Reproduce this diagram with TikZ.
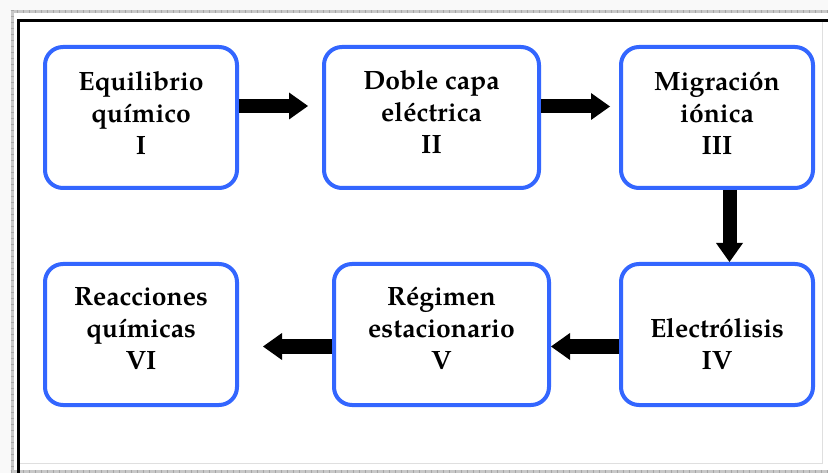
\documentclass[tikz,border=0pt]{standalone}
\usepackage{fontspec}
\setmainfont{texgyrepagella}[Extension=.otf, UprightFont=*-regular, BoldFont=*-bold, ItalicFont=*-italic, BoldItalicFont=*-bolditalic]
\usetikzlibrary{arrows.meta}
\definecolor{boxblue}{RGB}{51,102,255}
\definecolor{rulergray}{RGB}{200,200,200}
\tikzset{
  box/.style={draw=boxblue, line width=4pt, rounded corners=18pt, fill=white, inner sep=0pt},
  txt/.style={font=\fontsize{26.5}{32}\selectfont\bfseries, align=center, inner sep=0pt},
  blockarrow/.style={line width=14pt, -{Triangle[width=27pt,length=19pt,line width=0pt]}},
  ruler/.style={line width=3pt, draw=rulergray},
  rulerticks/.style={line width=3pt, draw=gray!70, dash pattern=on 0.6pt off 5.4pt},
  frame/.style={line width=3.5pt, draw=black},
  thin/.style={line width=1pt, draw=gray!25}
}
\begin{document}
\begin{tikzpicture}[x=1pt,y=-1pt]
\useasboundingbox (0,0) rectangle (828,473);
% page background and frame
\fill[gray!5] (0,0) rectangle (828,473);
\fill[white] (12,12) rectangle (828,470);
\draw[ruler] (10.5,12) -- (828,12);
\draw[rulerticks] (10.5,12) -- (828,12);
\draw[ruler] (12,10.5) -- (12,473);
\draw[rulerticks] (12,10.5) -- (12,473);
\draw[ruler] (10.5,471) -- (828,471);
\draw[rulerticks] (10.5,471) -- (828,471);
\draw[thin] (822,20) -- (822,463) -- (18,463);
\draw[frame] (17,20.5) -- (828,20.5);
\draw[frame] (18.5,19) -- (18.5,473);
% boxes
\node[box, minimum width=192pt, minimum height=141pt] (b1) at (141,117.5) {};
\node[box, minimum width=215pt, minimum height=141pt] (b2) at (431.5,117.5) {};
\node[box, minimum width=192pt, minimum height=141pt] (b3) at (717,117.5) {};
\node[box, minimum width=192pt, minimum height=141pt] (b4) at (717,334.5) {};
\node[box, minimum width=215pt, minimum height=141pt] (b5) at (441.5,334.5) {};
\node[box, minimum width=192pt, minimum height=141pt] (b6) at (141,334.5) {};
% texts
\node[txt] (t1) at ([yshift=4.5pt]b1.center) {Equilibrio\\químico\\I};
\node[txt] (t2) at ([yshift=5pt]b2.center) {Doble capa\\eléctrica\\II};
\node[txt] (t3) at ([yshift=4.5pt]b3.center) {Migración\\iónica\\III};
\node[txt] (t4) at ([yshift=-9.5pt]b4.center) {Electrólisis\\IV};
\node[txt] (t5) at ([yshift=6pt]b5.center) {Régimen\\estacionario\\V};
\node[txt] (t6) at ([yshift=5.5pt]b6.center) {Reacciones\\químicas\\VI};
% arrows
\draw[blockarrow, shorten >=14pt] ([yshift=11.5pt]b1.east) -- ([yshift=11.5pt]b2.west);
\draw[blockarrow, shorten >=9pt] ([yshift=11pt]b2.east) -- ([yshift=11pt]b3.west);
\draw[blockarrow] ([xshift=12.5pt]b3.south) -- ([xshift=12.5pt]b4.north);
\draw[blockarrow] ([yshift=-12pt]b4.west) -- ([yshift=-12pt]b5.east);
\draw[blockarrow, shorten >=24pt] ([yshift=-12pt]b5.west) -- ([yshift=-12pt]b6.east);
\end{tikzpicture}
\end{document}
